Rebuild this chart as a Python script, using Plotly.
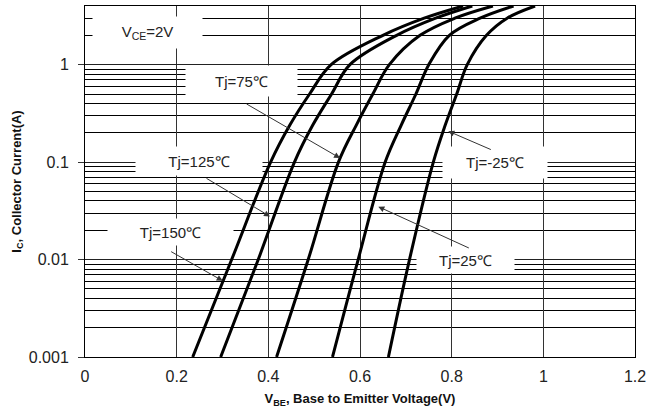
import math
import plotly.graph_objects as go

# Collector current (A) sample levels
ic = [0.001, 0.01, 0.1, 0.24, 0.5, 1, 2, 3, 4]
# VBE (V) for each junction temperature at the levels above
vbe_150 = [0.235, 0.320, 0.405, 0.447, 0.490, 0.537, 0.650, 0.740, 0.825]
vbe_125 = [0.296, 0.378, 0.457, 0.497, 0.538, 0.578, 0.680, 0.765, 0.845]
vbe_75 = [0.418, 0.487, 0.553, 0.592, 0.628, 0.664, 0.731, 0.807, 0.890]
vbe_25 = [0.540, 0.596, 0.655, 0.690, 0.722, 0.750, 0.795, 0.862, 0.935]
vbe_m25 = [0.662, 0.708, 0.760, 0.786, 0.811, 0.834, 0.876, 0.921, 0.982]

x_ticks = [0, 0.2, 0.4, 0.6, 0.8, 1.0, 1.2]
x_labels = ["0", "0.2", "0.4", "0.6", "0.8", "1", "1.2"]
y_ticks = [0.001, 0.01, 0.1, 1]
y_labels = ["0.001", "0.01", "0.1", "1"]
y_minor = [m * d for d in (0.001, 0.01, 0.1) for m in range(2, 10)] + [2, 3]

fig = go.Figure()
for v in (vbe_150, vbe_125, vbe_75, vbe_25, vbe_m25):
    fig.add_trace(go.Scatter(x=v, y=ic, mode="lines",
                             line=dict(color="black", width=3, shape="spline", smoothing=1),
                             showlegend=False, hoverinfo="skip"))

FONT = "Liberation Sans, Arial, sans-serif"

# labels: (text, x, y, width, height)
labels = [
    ("V<sub>CE</sub>=2V", 0.136, 2.14, 109, 31),
    ("Tj=75\u2103", 0.3415, 0.68, 111, 30),
    ("Tj=125\u2103", 0.2487, 0.1027, 126, 28),
    ("Tj=150\u2103", 0.1865, 0.0192, 125, 26),
    ("Tj=-25\u2103", 0.8945, 0.0991, 104, 31),
    ("Tj=25\u2103", 0.830, 0.00991, 97, 26),
]
for t, x, y, w, h in labels:
    fig.add_annotation(x=x, y=math.log10(y), xref="x", yref="y", text=t, showarrow=False,
                       bgcolor="white", width=w, height=h, borderpad=0,
                       font=dict(family=FONT, size=15, color="#222"))

# arrows: (tip x, tip y, tail dx px, tail dy px)
arrows = [
    (0.5564, 0.110, -95, -55),
    (0.4036, 0.0277, -65, -39),
    (0.3004, 0.00605, -53, -30),
    (0.7927, 0.2076, 44, 19),
    (0.640, 0.0349, 92, 42),
]
for x, y, ax, ay in arrows:
    fig.add_annotation(x=x, y=math.log10(y), xref="x", yref="y", text="", showarrow=True,
                       ax=ax, ay=ay, arrowhead=2, arrowsize=1.2, arrowwidth=1,
                       arrowcolor="#333", standoff=0, startstandoff=0)

fig.update_layout(
    width=661, height=412,
    margin=dict(l=85, r=26, t=6, b=55),
    paper_bgcolor="white", plot_bgcolor="white",
    font=dict(family=FONT, size=16, color="#222"),
    xaxis=dict(range=[0, 1.2], tickmode="array", tickvals=x_ticks, ticktext=x_labels,
               showgrid=True, gridcolor="#333", gridwidth=1, zeroline=False,
               showline=True, linecolor="black", linewidth=1, mirror=True, ticks="",
               ticklabelstandoff=5,
               tickfont=dict(size=16, color="#222"),
               title=dict(text="<b>V<sub>BE</sub>, Base to Emitter Voltage(V)</b>",
                          font=dict(size=13, color="#111"), standoff=9)),
    yaxis=dict(type="log", range=[-3, math.log10(4)], tickmode="array", tickvals=y_ticks,
               ticktext=y_labels, showgrid=True, gridcolor="#222", gridwidth=1, zeroline=False,
               showline=True, linecolor="black", linewidth=1, mirror=True,
               ticks="outside", ticklen=6, tickcolor="#333", ticklabelstandoff=6,
               tickfont=dict(size=16, color="#222"),
               minor=dict(tickmode="array", tickvals=y_minor, showgrid=True,
                          gridcolor="black", gridwidth=1, ticks=""),
               title=dict(text="<b>I<sub>C</sub>, Collector Current(A)</b>",
                          font=dict(size=13, color="#111"), standoff=4)),
)

fig.write_html("out.html")
